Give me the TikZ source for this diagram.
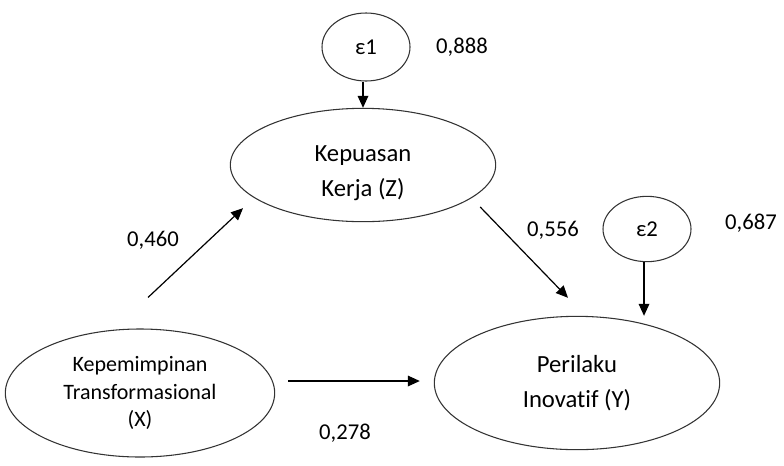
\documentclass[tikz,border=0pt]{standalone}
\usepackage{fontspec}
\setmainfont{Carlito}[RawFeature={-liga;-clig;-calt;-rlig}]
\usetikzlibrary{shapes.geometric,arrows.meta}

\begin{document}
\begin{tikzpicture}[x=0.75pt,y=-0.75pt,
  var/.style={draw=black!80,ellipse,inner sep=0pt,align=center,line width=0.8pt},
  err/.style={draw=black!80,ellipse,inner sep=0pt,minimum width=66pt,minimum height=51pt,line width=0.8pt,font=\fontsize{17}{20}\selectfont},
  coef/.style={font=\fontsize{17}{20}\selectfont},
  arr/.style={-{Triangle[length=9pt,width=8pt]},line width=0.9pt}]
  \useasboundingbox (0,0) rectangle (784,465);
  % latent variables
  \node[var,minimum width=199pt,minimum height=85pt,
    label={[align=center,yshift=-6pt,font=\fontsize{18.5}{26}\selectfont]center:Kepuasan\\Kerja (Z)}] (z) at (363,165) {};
  \node[var,minimum width=202pt,minimum height=96pt,font=\fontsize{16.5}{20.5}\selectfont] (x) at (140,393) {Kepemimpinan\\Transformasional\\(X)};
  \node[var,minimum width=214pt,minimum height=100pt,font=\fontsize{18.5}{26}\selectfont] (y) at (577,383) {Perilaku\\Inovat\kern0pt if (Y)};
  % error terms
  \node[err] (e1) at (366,47) {ε1};
  \node[err,minimum height=49pt] (e2) at (647,229) {ε2};
  % coefficients
  \node[coef] (c1) at (462,47) {0,888};
  \node[coef] (c2) at (751,223) {0,687};
  \node[coef] (c3) at (153,240) {0,460};
  \node[coef] (c4) at (553,230) {0,556};
  \node[coef] (c5) at (345,433) {0,278};
  % paths
  \draw[arr] (e1.south -| z.north) -- (z.north);
  \draw[arr] ([shift={(-3,0)}]e2.south) -- ([shift={(-3,0)}]e2.south |- y.north);
  \draw[arr] ([shift={(8,-31)}]x.north) -- ([shift={(-120,-14)}]z.south);
  \draw[arr] ([shift={(-16,42)}]z.east) -- ([shift={(-9,-18)}]y.north);
  \draw[arr] ([shift={(13,-12)}]x.east) -- ([shift={(-14,-2)}]y.west);
\end{tikzpicture}
\end{document}
